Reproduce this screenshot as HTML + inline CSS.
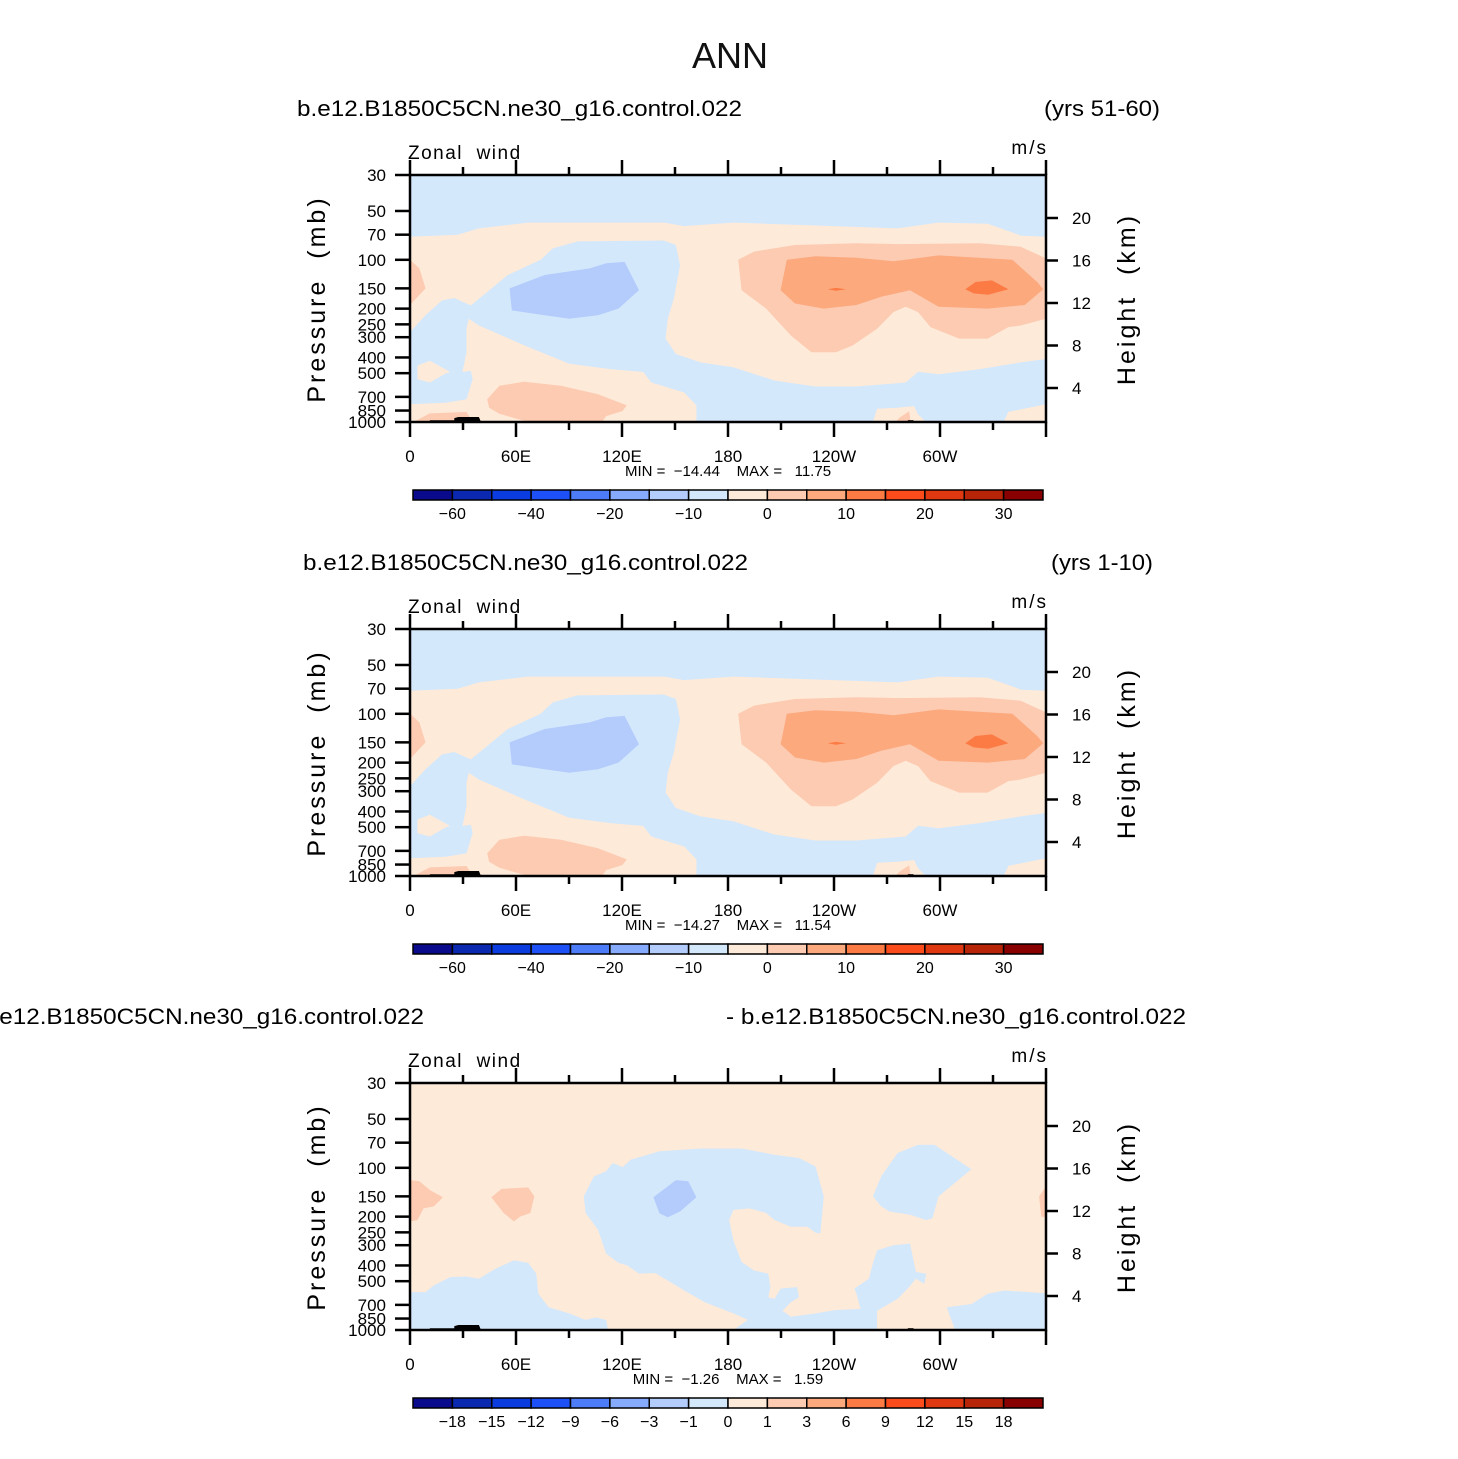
<!DOCTYPE html>
<html><head><meta charset="utf-8"><style>
html,body{margin:0;padding:0;background:#fff;}
svg{display:block;font-family:"Liberation Sans",sans-serif;}
text{white-space:pre;}
</style></head><body>
<svg id="chart" width="1458" height="1459" viewBox="0 0 1458 1459" xmlns="http://www.w3.org/2000/svg">
<text x="730" y="68" text-anchor="middle" font-size="36" fill="#111">ANN</text>
</svg>
<script>
// ---------- data (lon in degrees east, pressure in mb) ----------
const pressureTicks = [30,50,70,100,150,200,250,300,400,500,700,850,1000];
const heightTicks = [4,8,12,16,20];
const lonTicks = [0,60,120,180,240,300];
const lonTickLabels = ["0","60E","120E","180","120W","60W"];
const barColors = ["#0a0a8c","#0a28b0","#0a3ce0","#1e50f8","#4c7cf8","#86aafc","#b4ccfc","#d4e8fc","#feead8","#fccbb2","#fca97e","#fc7a44","#fc4c1c","#e03810","#b82408","#880000"];
const barLabelsMain = ["-60","","-40","","-20","","-10","","0","","10","","20","","30"];
const barLabelsDiff = ["-18","-15","-12","-9","-6","-3","-1","0","1","3","6","9","12","15","18"];
const panelTitlesLeft = ["b.e12.B1850C5CN.ne30_g16.control.022","b.e12.B1850C5CN.ne30_g16.control.022","b.e12.B1850C5CN.ne30_g16.control.022"];
const panelTitlesRight = ["(yrs 51-60)","(yrs 1-10)","- b.e12.B1850C5CN.ne30_g16.control.022"];
const minValues = ["-14.44","-14.27","-1.26"];
const maxValues = ["11.75","11.54","1.59"];

// panels 1 & 2 contour regions
const topBand = [[0,30],[360,30],[360,72],[346,71],[327,60],[299,59],[276,64],[183,59],[155,62],[144,59],[67,59],[39,64],[27,70],[0,72]];
const bigBlue = [[0,279],[8.8,220],[18.1,178],[25.1,172],[34.4,191],[43.7,158],[55.3,124],[73.9,100],[80.8,85],[94.8,77],[143.6,76],[150.5,81],[152.9,108],[149.4,173],[145.9,231],[144.7,306],[150.5,381],[164.5,429],[183,460],[206.3,555],[229.5,604],[252.7,604],[280.6,571],[287.6,490],[299.2,507],[322.4,472],[345.7,429],[360,409],[360,1000],[0,1000]];
const lowerOrange = [[33.2,231],[39,254],[66.9,345],[90.1,437],[113.4,472],[132,492],[136.6,571],[155.2,658],[162.1,790],[162.1,1000],[0,1000],[0,778],[20.4,760],[32,724],[35.5,544],[34.4,483],[29.7,492],[32,372],[32,266]];
const leftOrange = [[4.2,449],[11.2,419],[22.8,492],[20.4,501],[11.2,571],[4.2,544]];
const bottomOrangeA = [[262,1000],[264.4,828],[276,816],[285.3,797],[287.6,898],[292,1000]];
const bottomOrangeB = [[336,1000],[338.7,867],[360,778],[360,1000]];
const lowSalmon = [[43.7,724],[50.6,598],[64.6,565],[85.5,598],[106.4,674],[122.7,790],[120.3,855],[111,919],[108.7,1000],[66.9,1000],[50.6,890],[44.8,816]];
const edgeSalmon = [[0,100],[5.3,113],[8.8,150],[0,190]];
const cornerSalmon = [[1.9,1000],[11.2,885],[32,868],[35.5,1000]];
const tinySalmon = [[274.8,1000],[277,941],[282.5,860],[283.4,1000]];
const midBlue = [[56.4,150],[76.2,124],[101.7,113],[111,105],[121.5,103],[129.6,154],[118,200],[106.4,220],[90.1,231],[76.2,220],[57.6,205]];
const jetSalmon = [[185.8,100],[194.7,89],[217.9,81],[252.7,79],[276,80],[322.4,79],[345.7,83],[360,98],[360,231],[345.7,254],[338.7,260],[327,306],[310.8,306],[294.6,260],[287.6,210],[280.6,195],[273.6,210],[264.4,266],[250.4,338],[241.1,372],[227.2,372],[215.6,293],[201.6,200],[187.7,154]];
const jetCore = [[213.3,100],[229.5,95],[252.7,97],[273.6,102],[280.6,100],[299.2,94],[341,100],[355,137],[358.4,152],[348,190],[327,200],[299.2,195],[283,154],[266.7,169],[252.7,190],[234.2,200],[217.9,186],[209.8,154]];
const jetMax1 = [[236.5,152],[241.1,149],[246.9,152],[241.1,155]];
const jetMax2 = [[314.3,152],[320.1,137],[329.4,134],[338.7,152],[327.3,164],[319,161]];
const topography = [[11.2,1000],[11.2,975],[25.1,975],[25.1,946],[27.4,932],[39,932],[40.2,1000]];
const topography2 = [[281.8,1000],[281.8,975],[285,975],[285,1000]];

// panel 3 (difference) regions
const diffBlueCentral = [[98.3,150],[104.1,113],[111,105],[114.5,94],[116.8,95],[120.3,99],[125,89],[141.2,79],[164.5,76],[187.7,76],[206.3,83],[220.2,87],[229.5,98],[234.2,150],[232.3,254],[229.5,251],[224.9,231],[215.6,231],[206.3,210],[201.6,190],[192.3,178],[183,182],[180.7,210],[183,279],[187.7,381],[194.7,429],[202.8,449],[204,544],[202.8,628],[206.3,643],[209.8,555],[219.1,544],[220.2,628],[215.6,674],[210.9,760],[215.6,828],[229.5,790],[241.1,753],[255,741],[252.7,598],[251.6,555],[259.7,483],[262,388],[264.4,322],[273.6,300],[283,293],[286.4,439],[292.2,449],[291.1,519],[286.4,483],[281.8,555],[276,643],[264.4,760],[264.4,1000],[183,1000],[191.2,867],[183,790],[166.8,674],[155.2,571],[138.9,446],[129.6,449],[122.7,399],[118,386],[111,338],[106.4,241],[99.4,190]];
const diffBlueBottomRight = [[308.5,1000],[303.8,724],[317.8,691],[327,598],[336.4,571],[360,593],[360,1000]];
const diffBlueBottomLeft = [[0,584],[8.8,584],[13.5,531],[22.8,472],[32,468],[39,483],[48.3,419],[58.8,372],[66.9,386],[71.5,449],[72.7,598],[78.5,724],[90.1,790],[99.4,867],[105.2,836],[111,868],[112.2,1000],[0,1000]];
const diffBlueUpperRight = [[262,150],[266.7,113],[276,81],[287.6,72],[296.9,72],[317.8,102],[299.2,150],[295.7,205],[292.2,210],[283,195],[271.3,186],[266.7,173]];
const diffMidBlue = [[137.8,152],[150.5,119],[157.5,121],[162.1,152],[152.9,186],[145.9,202],[141.2,191]];
const diffSalmonLeft = [[0,119],[5.3,121],[11.2,137],[18.6,152],[13.5,173],[7.7,178],[4.2,210],[0,214]];
const diffSalmonMid = [[46,152],[51.8,135],[66.9,132],[70.4,150],[68.1,190],[62.3,200],[58.8,214],[53,190]];
const diffSalmonRight = [[360,130],[356.1,150],[357.3,200],[360,202]];

const C = {lb:"#d4e8fc", mb:"#b4ccfc", lo:"#feead8", sal:"#fccbb2", med:"#fca97e", org:"#fc7a44", blk:"#000"};
const layersMain = [[topBand,C.lb,"upper-easterly-band"],[bigBlue,C.lb,"easterly-region"],[lowerOrange,C.lo,"lower-westerly-region"],[leftOrange,C.lo,"left-westerly-patch"],[bottomOrangeA,C.lo,"surface-westerly-a"],[bottomOrangeB,C.lo,"surface-westerly-b"],[lowSalmon,C.sal,"low-level-westerly"],[edgeSalmon,C.sal,"edge-westerly"],[cornerSalmon,C.sal,"corner-westerly"],[tinySalmon,C.sal,"tiny-westerly"],[midBlue,C.mb,"easterly-core"],[jetSalmon,C.sal,"jet-outer"],[jetCore,C.med,"jet-inner"],[jetMax1,C.org,"jet-max-1"],[jetMax2,C.org,"jet-max-2"],[topography,C.blk,"topography"],[topography2,C.blk,"topography-small"]];
const layersDiff = [[diffBlueCentral,C.lb,"negative-central"],[diffBlueBottomRight,C.lb,"negative-bottom-right"],[diffBlueBottomLeft,C.lb,"negative-bottom-left"],[diffBlueUpperRight,C.lb,"negative-upper-right"],[diffMidBlue,C.mb,"negative-core"],[diffSalmonLeft,C.sal,"positive-left"],[diffSalmonMid,C.sal,"positive-mid"],[diffSalmonRight,C.sal,"positive-right"],[topography,C.blk,"topography"],[topography2,C.blk,"topography-small"]];

// ---------- drawing ----------
const NS = "http://www.w3.org/2000/svg";
const svg = document.getElementById("chart");
function mk(tag, attrs, parent){const e=document.createElementNS(NS,tag);for(const k in attrs)e.setAttribute(k,attrs[k]);(parent||svg).appendChild(e);return e;}
const X0=410, X1=1046, H=247;
function xS(lon){return X0 + lon/360*(X1-X0);}
function yS(p, y0){return y0 + Math.log(p/30)/Math.log(1000/30)*H;}
function yH(km, y0){return y0 + 213 + (4-km)*10.625;}

function drawPanel(i, off, layers, barLabels){
  const y0 = 175+off, y1 = y0+H;
  const g = mk("g",{});
  
  
  const clipId = "clip"+i;
  const cp = mk("clipPath",{id:clipId},g);
  mk("rect",{x:X0,y:y0,width:X1-X0,height:H},cp);
  const plot = mk("g",{"clip-path":"url(#"+clipId+")"},g);
  
  
  const bg = mk("rect",{x:X0,y:y0,width:X1-X0,height:H,fill:C.lo},plot);
  
  
  layers.forEach(L=>{
    const pts = L[0].map(d=>xS(d[0]).toFixed(1)+","+yS(d[1],y0).toFixed(1)).join(" ");
    const poly = mk("polygon",{points:pts,fill:L[1],stroke:"none"},plot);
    
    
  });
  const fr = mk("rect",{x:X0,y:y0,width:X1-X0,height:H,fill:"none",stroke:"#000","stroke-width":2.5},g);
  
  
  pressureTicks.forEach(p=>{
    const y=yS(p,y0);
    mk("line",{x1:X0-15,x2:X0,y1:y,y2:y,stroke:"#000","stroke-width":2.5},g);
    const t=mk("text",{x:X0-24,y:y+6,"text-anchor":"end","font-size":17,fill:"#000"},g);
    t.textContent=p;
    
    
  });
  heightTicks.forEach(h=>{
    const y=yH(h,y0);
    mk("line",{x1:X1,x2:X1+12,y1:y,y2:y,stroke:"#000","stroke-width":2.5},g);
    const t=mk("text",{x:X1+26,y:y+6,"font-size":17,fill:"#000"},g);
    t.textContent=h;
    
    
  });
  for(let lon=0; lon<=360; lon+=30){
    const x=xS(lon), major = lon%60===0, len = major?15:8;
    mk("line",{x1:x,x2:x,y1:y0-len,y2:y0,stroke:"#000","stroke-width":2.5},g);
    mk("line",{x1:x,x2:x,y1:y1,y2:y1+len,stroke:"#000","stroke-width":2.5},g);
  }
  lonTicks.forEach((lon,k)=>{
    const t=mk("text",{x:xS(lon),y:y1+40,"text-anchor":"middle","font-size":17,fill:"#000"},g);
    t.textContent=lonTickLabels[k];
    
    
  });
  const yl=mk("text",{x:0,y:0,"text-anchor":"middle","font-size":25,fill:"#000","letter-spacing":"3",transform:"translate(325,"+(y0+124)+") rotate(-90)"},g);
  yl.textContent="Pressure  (mb)";
  
  
  const yr=mk("text",{x:0,y:0,"text-anchor":"middle","font-size":25,fill:"#000","letter-spacing":"3",transform:"translate(1135,"+(y0+124)+") rotate(-90)"},g);
  yr.textContent="Height  (km)";
  
  
  const zw=mk("text",{x:408,y:y0-16,"font-size":19,fill:"#000","letter-spacing":"1.5"},g);
  zw.textContent="Zonal  wind";
  
  
  const un=mk("text",{x:1048,y:y0-21,"text-anchor":"end","font-size":19,fill:"#000","letter-spacing":"2"},g);
  un.textContent="m/s";
  
  
  const lx = i===2 ? -21 : (i===0?297:303);
  const tl=mk("text",{x:lx,y:y0-59,"font-size":22,fill:"#000",textLength:445,lengthAdjust:"spacingAndGlyphs"},g);
  tl.textContent=panelTitlesLeft[i];
  
  
  const rx = i===2 ? 726 : (i===0?1044:1051);
  const rw = i===2 ? 460 : (i===0?116:102);
  const tr=mk("text",{x:rx,y:y0-59,"font-size":22,fill:"#000",textLength:rw,lengthAdjust:"spacingAndGlyphs"},g);
  tr.textContent=panelTitlesRight[i];
  
  
  const mm=mk("text",{x:728,y:y1+54,"text-anchor":"middle","font-size":15,fill:"#000","xml:space":"preserve"},g);
  mm.textContent="MIN =  "+minValues[i].replace("-","\u2212")+"    MAX =   "+maxValues[i];
  
  
  const cb = mk("g",{},g);
  
  
  const bx0=413,bx1=1043,by=y1+68,bw=(bx1-bx0)/barColors.length;
  barColors.forEach((c,k)=>{
    const r=mk("rect",{x:bx0+k*bw,y:by,width:bw,height:10,fill:c,stroke:"#000","stroke-width":1.5},cb);
    
    
  });
  barLabels.forEach((s,k)=>{
    if(!s) return;
    const t=mk("text",{x:bx0+(k+1)*bw,y:by+29,"text-anchor":"middle","font-size":16,fill:"#000"},cb);
    t.textContent=s.replace("-","\u2212");
    
    
  });
}
drawPanel(0,0,layersMain,barLabelsMain);
drawPanel(1,454,layersMain,barLabelsMain);
drawPanel(2,908,layersDiff,barLabelsDiff);
</script>
</body></html>
